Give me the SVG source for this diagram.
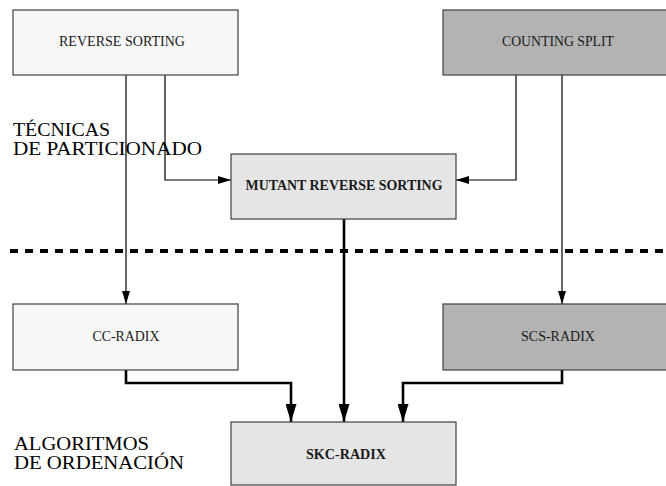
<svg xmlns="http://www.w3.org/2000/svg" width="666" height="486" viewBox="0 0 666 486">
<defs>
<style>
.box{stroke:#404040;stroke-width:1.2}
.light{fill:#f7f7f7}
.dark{fill:#b3b3b3}
.mid{fill:#e5e5e5}
.lbl{font-family:"Liberation Serif","Times New Roman",serif;font-size:13.8px;fill:#1a1a1a;text-anchor:middle}
.b{font-weight:bold}
.side{font-family:"Liberation Serif","Times New Roman",serif;font-size:19.5px;fill:#000}
.thin{fill:none;stroke:#000;stroke-width:1.2}
.thick{fill:none;stroke:#000;stroke-width:2.6}
</style>
<marker id="ah" viewBox="0 0 13 8" refX="13" refY="4" markerWidth="13" markerHeight="8" markerUnits="userSpaceOnUse" orient="auto">
<path d="M0,0 L13,4 L0,8 Z" fill="#000"/>
</marker>
<marker id="ahb" viewBox="0 0 18 11" refX="18" refY="5.5" markerWidth="18" markerHeight="11" markerUnits="userSpaceOnUse" orient="auto">
<path d="M0,0 L18,5.5 L0,11 Z" fill="#000"/>
</marker>
</defs>
<rect width="666" height="486" fill="#fff"/>

<g id="connectors">
<line x1="10" y1="251" x2="666" y2="251" stroke="#000" stroke-width="4" stroke-dasharray="8 7"/>
<path class="thin" d="M126,75 V304" marker-end="url(#ah)"/>
<path class="thin" d="M165,75 V180 H231" marker-end="url(#ah)"/>
<path class="thin" d="M516,75 V180 H456" marker-end="url(#ah)"/>
<path class="thin" d="M562,75 V304" marker-end="url(#ah)"/>
<path class="thick" d="M126,370 V383 H291 V422" marker-end="url(#ahb)"/>
<path class="thick" d="M344,219 V422" marker-end="url(#ahb)"/>
<path class="thick" d="M562,370 V383 H403 V422" marker-end="url(#ahb)"/>
</g>

<g id="reverse-sorting">
<rect class="box light" x="13" y="10" width="225" height="65"/>
<text class="lbl" x="122" y="45.5" textLength="126" lengthAdjust="spacingAndGlyphs">REVERSE SORTING</text>
</g>
<g id="counting-split">
<rect class="box dark" x="443" y="10" width="230" height="65"/>
<text class="lbl" x="558" y="45.5" textLength="112" lengthAdjust="spacingAndGlyphs">COUNTING SPLIT</text>
</g>
<g id="mutant-reverse-sorting">
<rect class="box mid" x="231" y="154" width="225" height="65"/>
<text class="lbl b" x="344" y="190" textLength="197" lengthAdjust="spacingAndGlyphs">MUTANT REVERSE SORTING</text>
</g>
<g id="cc-radix">
<rect class="box light" x="13" y="304" width="225" height="66"/>
<text class="lbl" x="126" y="341" textLength="67" lengthAdjust="spacingAndGlyphs">CC-RADIX</text>
</g>
<g id="scs-radix">
<rect class="box dark" x="443" y="304" width="230" height="66"/>
<text class="lbl" x="558" y="341" textLength="74" lengthAdjust="spacingAndGlyphs">SCS-RADIX</text>
</g>
<g id="skc-radix">
<rect class="box mid" x="231" y="422" width="225" height="63"/>
<text class="lbl b" x="346" y="459" textLength="80" lengthAdjust="spacingAndGlyphs">SKC-RADIX</text>
</g>

<g id="section-labels">
<text class="side" x="13" y="136" textLength="97" lengthAdjust="spacingAndGlyphs">TÉCNICAS</text>
<text class="side" x="13" y="155" textLength="189" lengthAdjust="spacingAndGlyphs">DE PARTICIONADO</text>
<text class="side" x="14" y="450" textLength="135" lengthAdjust="spacingAndGlyphs">ALGORITMOS</text>
<text class="side" x="14" y="469" textLength="170" lengthAdjust="spacingAndGlyphs">DE ORDENACIÓN</text>
</g>
</svg>
